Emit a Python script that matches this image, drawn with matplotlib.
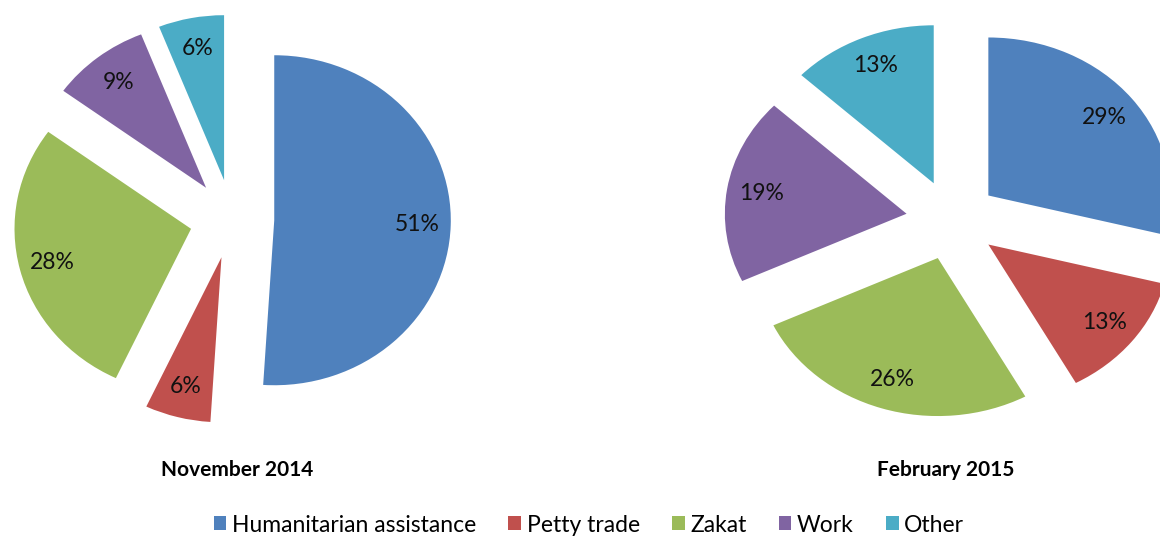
import matplotlib.pyplot as plt

# data
categories = ["Humanitarian assistance", "Petty trade", "Zakat", "Work", "Other"]
nov_2014 = [51, 6, 28, 9, 6]
feb_2015 = [29, 13, 26, 19, 13]
titles = ["November 2014", "February 2015"]
colors = ["#4F81BD", "#C0504D", "#9BBB59", "#8064A2", "#4BACC6"]

plt.rcParams["font.family"] = ["Lato", "DejaVu Sans"]

W, H = 1160, 538
fig = plt.figure(figsize=(W / 100, H / 100), dpi=100)


def draw_pie(values, cx, cy, r, gap, sx):
    # one full-figure axes per pie, x squeezed by sx so the pie comes out a bit wide
    ax = fig.add_axes([0, 0, 1, 1])
    wedges, _, pct = ax.pie(
        values, colors=colors, startangle=90, counterclock=False,
        explode=[gap] * len(values), radius=r, center=(cx / sx, H - cy),
        autopct="%.0f%%", pctdistance=0.81,
        textprops=dict(fontsize=16.5, color="#111111"),
        wedgeprops=dict(linewidth=0),
    )
    ax.set_aspect("auto")
    ax.set_xlim(0, W / sx)
    ax.set_ylim(0, H)
    ax.axis("off")
    return wedges


wedges = draw_pie(nov_2014, 232, 219, 165, 39.5, 1.07)
draw_pie(feb_2015, 952, 220, 158, 40, 1.15)

fig.text(237 / W, 1 - 470 / H, titles[0], ha="center", va="center",
         fontsize=15, fontweight="bold")
fig.text(946 / W, 1 - 470 / H, titles[1], ha="center", va="center",
         fontsize=15, fontweight="bold")

fig.legend(wedges, categories, loc="center", bbox_to_anchor=(589 / W, 1 - 525 / H),
           ncol=5, frameon=False, fontsize=16.5, handlelength=0.55, handleheight=0.55,
           handletextpad=0.25, columnspacing=1.4)

plt.savefig("out.png", dpi=100)
